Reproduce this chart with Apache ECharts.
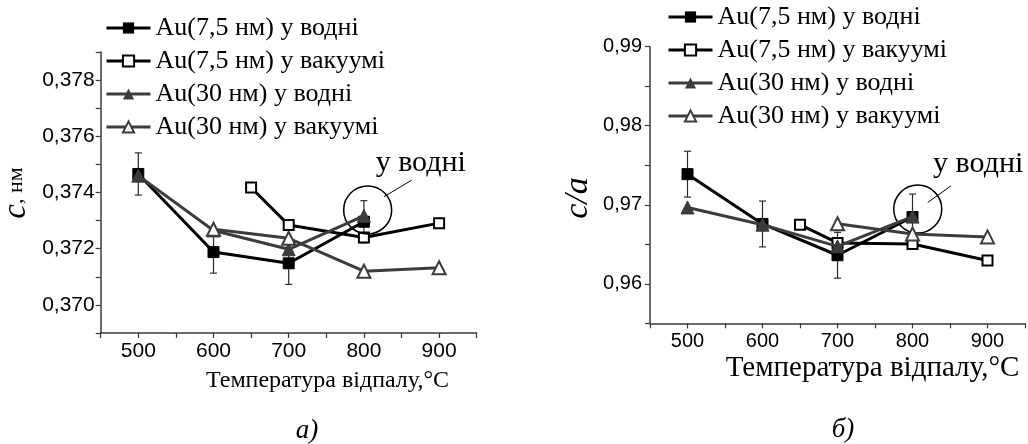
<!DOCTYPE html>
<html>
<head>
<meta charset="utf-8">
<script src="https://cdn.jsdelivr.net/npm/echarts@6/dist/echarts.min.js"></script>
<style>
  html, body { margin: 0; padding: 0; background: #fff; }
  #chart { width: 1028px; height: 444px; }
</style>
</head>
<body>
<div id="chart"></div>
<script>
// Series names shared by both panels
const seriesNames = ['Au(7,5 нм) у водні', 'Au(7,5 нм) у вакуумі', 'Au(30 нм) у водні', 'Au(30 нм) у вакуумі'];

// Annealing temperatures (°C) for each series
const tWater75 = [500, 600, 700, 800];
const tVacuum75 = [650, 700, 800, 900];
const tWater30 = [500, 600, 700, 800];
const tVacuum30A = [600, 700, 800, 900];
const tVacuum30B = [700, 800, 900];

// Panel a): lattice parameter c, nm
const cWater75 = [0.37466, 0.37188, 0.37148, 0.37296];
const cWater75Err = [0.00075, 0.00075, 0.00075, 0.00075];
const cVacuum75 = [0.37418, 0.37284, 0.37240, 0.37291];
const cWater30 = [0.37460, 0.37265, 0.37198, 0.37317];
const cVacuum30 = [0.37269, 0.37237, 0.37120, 0.37132];

// Panel б): ratio c/a
const caWater75 = [0.97387, 0.96757, 0.96361, 0.96845];
const caWater75Err = [0.0029, 0.0029, 0.0029, 0.0029];
const caVacuum75 = [0.96748, 0.96517, 0.96504, 0.96294];
const caWater30 = [0.96966, 0.96748, 0.96474, 0.96850];
const caVacuum30 = [0.96760, 0.96630, 0.96593];

// Callout ("у водні"): circle centre, arrow start/end, text anchor, in data units
const noteA = { circle: [805, 0.37338], from: [863.6, 0.37444], to: [826.7, 0.37385], text: [875.6, 0.37503] };
const noteB = { circle: [807, 0.96945], from: [851.4, 0.97240], to: [820.3, 0.97029], text: [887.6, 0.97517] };
const noteText = 'у водні';

const SERIF = '"Liberation Serif", "Times New Roman", serif';
const SANS = '"Liberation Sans", Arial, sans-serif';
const BLACK = '#000';
const GRAY = '#3c3c3c';
const AXIS = '#3a3a3a';

const pairs = (xs, ys) => xs.map((x, i) => [x, ys[i]]);
const errRows = (xs, ys, es) => xs.map((x, i) => [x, ys[i] - es[i], ys[i] + es[i]]);

const styles = [
  { color: BLACK, symbol: 'rect', size: 11 },
  { color: BLACK, symbol: 'emptyRect', size: 10 },
  { color: GRAY, symbol: 'triangle', size: 13 },
  { color: GRAY, symbol: 'emptyTriangle', size: 13 }
];

function line(idx, grid, data) {
  const s = styles[idx];
  return {
    type: 'line', name: seriesNames[idx], xAxisIndex: grid, yAxisIndex: grid,
    data: data, symbol: s.symbol, symbolSize: s.size, showSymbol: true,
    itemStyle: { color: s.color, borderColor: s.color },
    lineStyle: { color: s.color, width: 3 },
    emphasis: { disabled: true }, z: 3 + idx
  };
}

function errorBars(grid, rows) {
  return {
    type: 'custom', xAxisIndex: grid, yAxisIndex: grid, data: rows,
    encode: { x: 0, y: [1, 2] }, z: 2, silent: true,
    renderItem(params, api) {
      const x = api.value(0);
      const lo = api.coord([x, api.value(1)]);
      const hi = api.coord([x, api.value(2)]);
      const w = 3.5;
      const st = { stroke: '#2a2a2a', lineWidth: 1.2 };
      return {
        type: 'group',
        children: [
          { type: 'line', shape: { x1: lo[0], y1: lo[1], x2: hi[0], y2: hi[1] }, style: st },
          { type: 'line', shape: { x1: lo[0] - w, y1: lo[1], x2: lo[0] + w, y2: lo[1] }, style: st },
          { type: 'line', shape: { x1: hi[0] - w, y1: hi[1], x2: hi[0] + w, y2: hi[1] }, style: st }
        ]
      };
    }
  };
}

function callout(grid, note) {
  return {
    type: 'scatter', xAxisIndex: grid, yAxisIndex: grid, data: [], silent: true, z: 10,
    markPoint: {
      silent: true,
      data: [
        { coord: note.circle, symbol: 'circle', symbolSize: 48,
          itemStyle: { color: 'rgba(0,0,0,0)', borderColor: BLACK, borderWidth: 1.5 },
          label: { show: false } },
        { coord: note.text, symbol: 'circle', symbolSize: 0,
          label: { show: true, formatter: noteText, position: 'inside',
                   fontFamily: SERIF, fontSize: 30, color: BLACK } }
      ]
    },
    markLine: {
      silent: true, symbol: ['none', 'arrow'], symbolSize: [0, 8],
      label: { show: false },
      lineStyle: { color: BLACK, width: 1, type: 'solid' },
      data: [[{ coord: note.from }, { coord: note.to }]]
    }
  };
}

const axisLine = { show: true, onZero: false, lineStyle: { color: AXIS, width: 1.5 } };
const axisTick = { show: true, inside: false, length: 5, lineStyle: { color: AXIS, width: 1.2 } };

function xAxis(grid, size) {
  return {
    type: 'value', gridIndex: grid, min: 450, max: 950, interval: 50,
    axisLine, axisTick, splitLine: { show: false },
    axisLabel: {
      fontFamily: SANS, fontSize: size, color: BLACK, margin: 8,
      formatter: v => (v % 100 === 0 && v >= 500 && v <= 900) ? String(v) : ''
    }
  };
}

const legendBase = {
  orient: 'vertical', itemWidth: 44, itemHeight: 14, itemGap: 7, padding: 0,
  selectedMode: false, data: seriesNames,
  lineStyle: { width: 3 },
  textStyle: { fontFamily: SERIF, fontSize: 26, color: BLACK }
};

const option = {
  animation: false,
  backgroundColor: '#fff',
  grid: [
    { left: 100.7, right: 1028 - 476.7, top: 52, bottom: 444 - 333 },
    { left: 650, right: 1, top: 46.7, bottom: 444 - 323.3 }
  ],
  xAxis: [xAxis(0, 21), xAxis(1, 20)],
  yAxis: [
    {
      type: 'value', gridIndex: 0, min: 0.369, max: 0.379, interval: 0.001,
      axisLine, axisTick, splitLine: { show: false },
      axisLabel: {
        fontFamily: SANS, fontSize: 21, color: BLACK, margin: 6,
        formatter: v => Math.round(v * 1000) % 2 === 0 ? v.toFixed(3).replace('.', ',') : ''
      }
    },
    {
      type: 'value', gridIndex: 1, min: 0.955, max: 0.99, interval: 0.005,
      axisLine, axisTick, splitLine: { show: false },
      axisLabel: {
        fontFamily: SANS, fontSize: 20, color: BLACK, margin: 8,
        formatter: v => Math.round(v * 1000) % 10 === 0 ? v.toFixed(2).replace('.', ',') : ''
      }
    }
  ],
  legend: [
    Object.assign({}, legendBase, { left: 105, top: 15 }),
    Object.assign({}, legendBase, { left: 667, top: 4 })
  ],
  series: [
    errorBars(0, errRows(tWater75, cWater75, cWater75Err)),
    line(0, 0, pairs(tWater75, cWater75)),
    line(1, 0, pairs(tVacuum75, cVacuum75)),
    line(2, 0, pairs(tWater30, cWater30)),
    line(3, 0, pairs(tVacuum30A, cVacuum30)),
    callout(0, noteA),

    errorBars(1, errRows(tWater75, caWater75, caWater75Err)),
    line(0, 1, pairs(tWater75, caWater75)),
    line(1, 1, pairs(tVacuum75, caVacuum75)),
    line(2, 1, pairs(tWater30, caWater30)),
    line(3, 1, pairs(tVacuum30B, caVacuum30)),
    callout(1, noteB)
  ],
  graphic: [
    { type: 'text', x: 327.5, y: 381, silent: true,
      style: { text: 'Температура відпалу,°C', font: '24px ' + SERIF, fill: BLACK, align: 'center', verticalAlign: 'middle' } },
    { type: 'text', x: 872.5, y: 368, silent: true,
      style: { text: 'Температура відпалу,°C', font: '29px ' + SERIF, fill: BLACK, align: 'center', verticalAlign: 'middle' } },
    { type: 'text', x: 16, y: 193, rotation: Math.PI / 2, silent: true,
      style: {
        text: '{c|c}{u|, нм}', align: 'center', verticalAlign: 'middle',
        rich: {
          c: { font: 'italic 33px ' + SERIF, fill: BLACK },
          u: { font: '22px ' + SERIF, fill: BLACK }
        }
      } },
    { type: 'text', x: 578, y: 198, rotation: Math.PI / 2, silent: true,
      style: { text: 'c/a', font: 'italic 34px ' + SERIF, fill: BLACK, align: 'center', verticalAlign: 'middle' } },
    { type: 'text', x: 307, y: 431, silent: true,
      style: { text: 'а)', font: 'italic 27px ' + SERIF, fill: BLACK, align: 'center', verticalAlign: 'middle' } },
    { type: 'text', x: 843, y: 430, silent: true,
      style: { text: 'б)', font: 'italic 27px ' + SERIF, fill: BLACK, align: 'center', verticalAlign: 'middle' } }
  ]
};

const chart = echarts.init(document.getElementById('chart'), null, { renderer: 'canvas' });
chart.setOption(option);
</script>
</body>
</html>
